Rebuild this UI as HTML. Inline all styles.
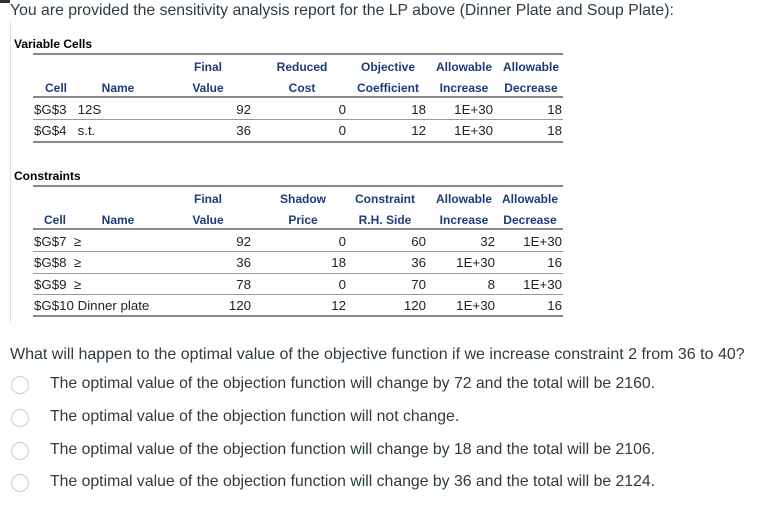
<!DOCTYPE html>
<html><head><meta charset="utf-8"><style>
body{margin:0;width:780px;height:508px;background:#fff;position:relative;overflow:hidden;font-family:"Liberation Sans",sans-serif;color:#2d3b45}
.a{position:absolute;white-space:nowrap}
.q{font-size:16px}
.o{font-size:15.8px}
.sec{font-size:12px;font-weight:bold;color:#000}
.h{font-size:12px;font-weight:bold;color:#1f3a7a;transform:translateX(-50%)}
.c{font-size:13.3px;color:#222}
.r{font-size:13.3px;color:#222;transform:translateX(-100%)}
.ln{position:absolute;left:33px;width:530px;height:1px;background:#999}
.ln2{height:2px;background:#888}
.rad{position:absolute;left:11px;width:16px;height:16px;border:1.5px solid #c8cdd2;border-radius:50%}
</style></head><body>
<div class="a" style="left:0;top:0;width:10px;height:3px;background:#333"></div>
<div class="a" style="left:10px;top:22px;width:1px;height:300px;background:#ddd"></div>
<div class="a q" style="left:10px;top:2px;font-size:15.8px">You are provided the sensitivity analysis report for the LP above (Dinner Plate and Soup Plate):</div>

<div>
<div class="a sec" style="left:14px;top:37px">Variable Cells</div>
<div class="ln ln2" style="top:53px"></div>
<div class="a h" style="left:208px;top:60px">Final</div>
<div class="a h" style="left:302px;top:60px">Reduced</div>
<div class="a h" style="left:388px;top:60px">Objective</div>
<div class="a h" style="left:464px;top:60px">Allowable</div>
<div class="a h" style="left:531px;top:60px">Allowable</div>
<div class="a h" style="left:56px;top:81px">Cell</div>
<div class="a h" style="left:118px;top:81px">Name</div>
<div class="a h" style="left:208px;top:81px">Value</div>
<div class="a h" style="left:302px;top:81px">Cost</div>
<div class="a h" style="left:388px;top:81px">Coefficient</div>
<div class="a h" style="left:464px;top:81px">Increase</div>
<div class="a h" style="left:531px;top:81px">Decrease</div>
<div class="ln ln2" style="top:96px"></div>
<div class="a c" style="left:34px;top:102px">$G$3&nbsp;&nbsp;&nbsp;12S</div>
<div class="a r" style="left:251px;top:102px">92</div><div class="a r" style="left:346px;top:102px">0</div><div class="a r" style="left:426px;top:102px">18</div><div class="a r" style="left:493px;top:102px">1E+30</div><div class="a r" style="left:562px;top:102px">18</div>
<div class="ln" style="top:119px"></div>
<div class="a c" style="left:34px;top:123px">$G$4&nbsp;&nbsp;&nbsp;s.t.</div>
<div class="a r" style="left:251px;top:123px">36</div><div class="a r" style="left:346px;top:123px">0</div><div class="a r" style="left:426px;top:123px">12</div><div class="a r" style="left:493px;top:123px">1E+30</div><div class="a r" style="left:562px;top:123px">18</div>
<div class="ln ln2" style="top:141px"></div>
</div>

<div>
<div class="a sec" style="left:14px;top:169px">Constraints</div>
<div class="ln ln2" style="top:185px"></div>
<div class="a h" style="left:208px;top:192px">Final</div>
<div class="a h" style="left:303px;top:192px">Shadow</div>
<div class="a h" style="left:385px;top:192px">Constraint</div>
<div class="a h" style="left:464px;top:192px">Allowable</div>
<div class="a h" style="left:530px;top:192px">Allowable</div>
<div class="a h" style="left:55px;top:213px">Cell</div>
<div class="a h" style="left:118px;top:213px">Name</div>
<div class="a h" style="left:208px;top:213px">Value</div>
<div class="a h" style="left:303px;top:213px">Price</div>
<div class="a h" style="left:385px;top:213px">R.H. Side</div>
<div class="a h" style="left:464px;top:213px">Increase</div>
<div class="a h" style="left:530px;top:213px">Decrease</div>
<div class="ln ln2" style="top:228px"></div>
<div class="a c" style="left:34px;top:234px">$G$7&nbsp;&nbsp;≥</div>
<div class="a r" style="left:251px;top:234px">92</div><div class="a r" style="left:346px;top:234px">0</div><div class="a r" style="left:426px;top:234px">60</div><div class="a r" style="left:495px;top:234px">32</div><div class="a r" style="left:562px;top:234px">1E+30</div>
<div class="ln" style="top:251px"></div>
<div class="a c" style="left:34px;top:255px">$G$8&nbsp;&nbsp;≥</div>
<div class="a r" style="left:251px;top:255px">36</div><div class="a r" style="left:346px;top:255px">18</div><div class="a r" style="left:426px;top:255px">36</div><div class="a r" style="left:495px;top:255px">1E+30</div><div class="a r" style="left:562px;top:255px">16</div>
<div class="ln" style="top:273px"></div>
<div class="a c" style="left:34px;top:277px">$G$9&nbsp;&nbsp;≥</div>
<div class="a r" style="left:251px;top:277px">78</div><div class="a r" style="left:346px;top:277px">0</div><div class="a r" style="left:426px;top:277px">70</div><div class="a r" style="left:495px;top:277px">8</div><div class="a r" style="left:562px;top:277px">1E+30</div>
<div class="ln" style="top:294px"></div>
<div class="a c" style="left:34px;top:298px">$G$10&nbsp;Dinner plate</div>
<div class="a r" style="left:251px;top:298px">120</div><div class="a r" style="left:346px;top:298px">12</div><div class="a r" style="left:426px;top:298px">120</div><div class="a r" style="left:495px;top:298px">1E+30</div><div class="a r" style="left:562px;top:298px">16</div>
<div class="ln ln2" style="top:315px"></div>
</div>

<div class="a q" style="left:10px;top:346px">What will happen to the optimal value of the objective function if we increase constraint 2 from 36 to 40?</div>
<div class="rad" style="top:376px"></div>
<div class="a o" style="left:50px;top:375px">The optimal value of the objection function will change by 72 and the total will be 2160.</div>
<div class="rad" style="top:409px"></div>
<div class="a o" style="left:50px;top:408px">The optimal value of the objection function will not change.</div>
<div class="rad" style="top:442px"></div>
<div class="a o" style="left:50px;top:441px">The optimal value of the objection function will change by 18 and the total will be 2106.</div>
<div class="rad" style="top:474px"></div>
<div class="a o" style="left:50px;top:473px">The optimal value of the objection function will change by 36 and the total will be 2124.</div>
</body></html>
